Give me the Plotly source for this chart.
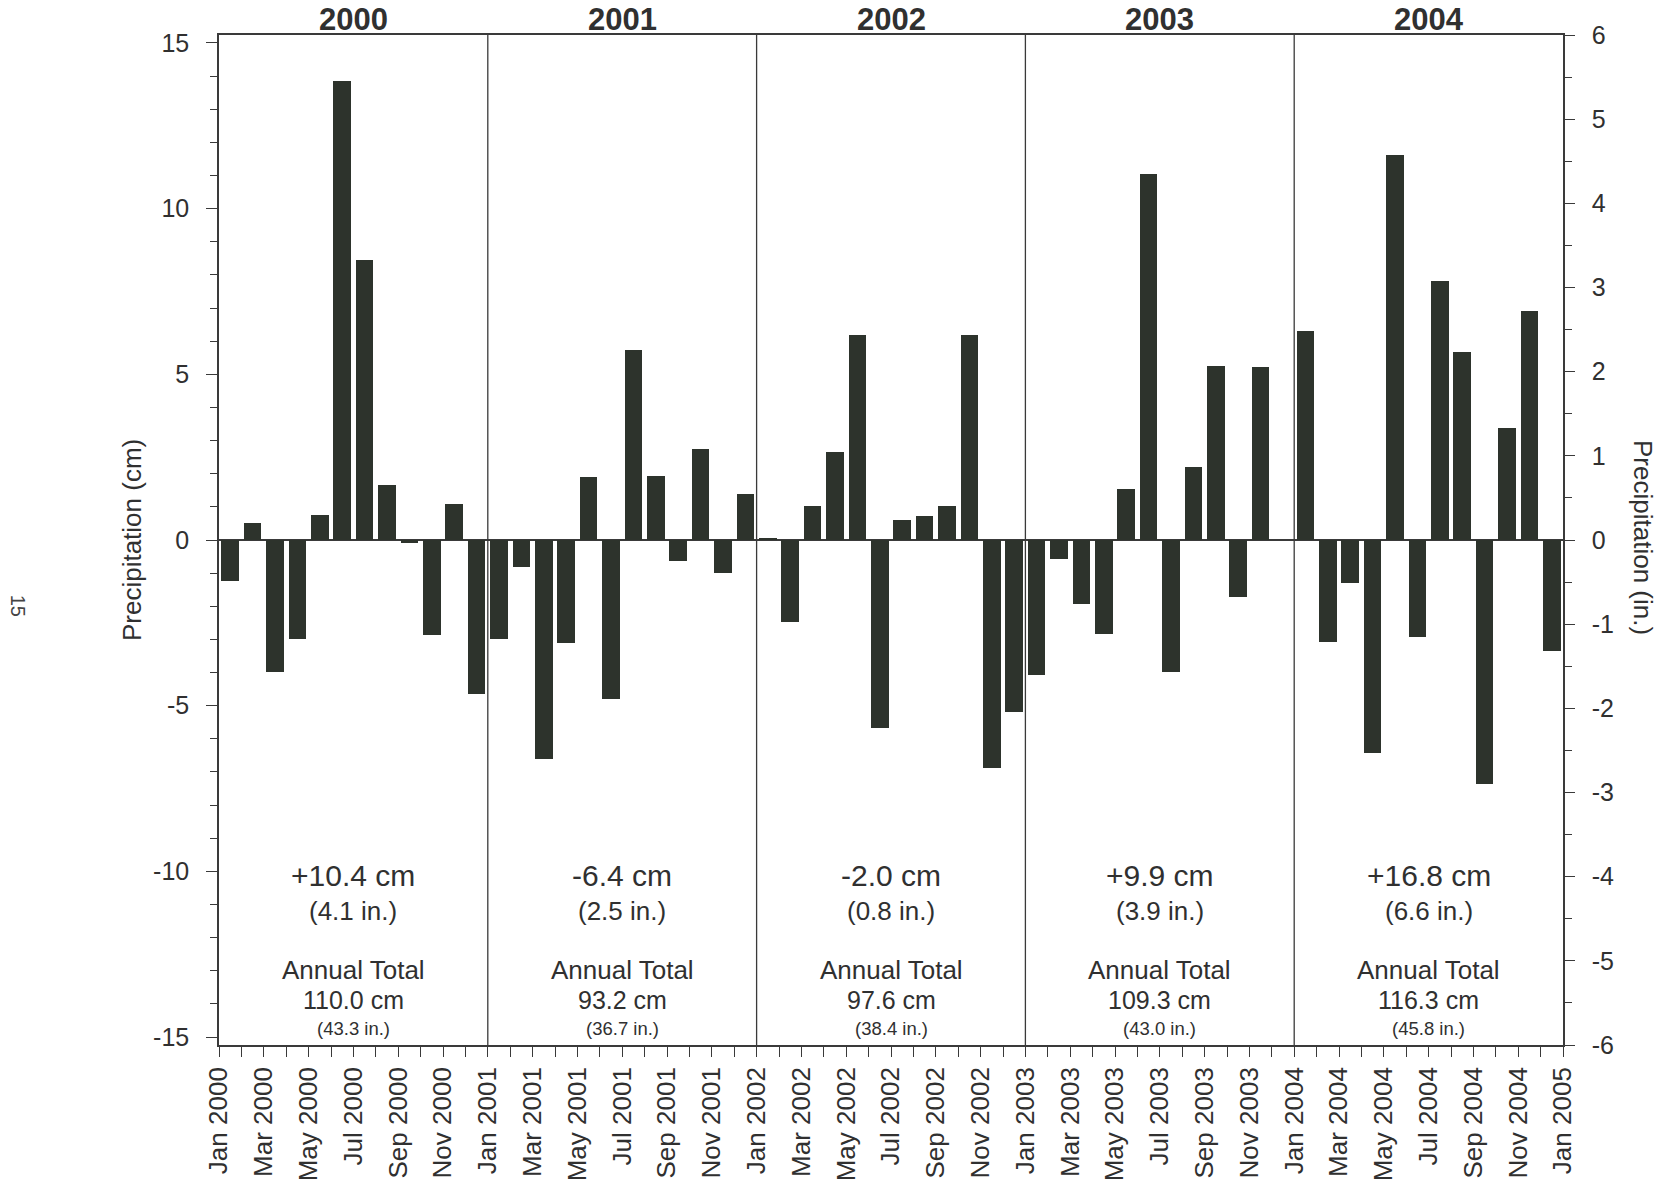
import plotly.graph_objects as go

# Monthly precipitation departure from normal (cm), Jan..Dec of each year
years = [2000, 2001, 2002, 2003, 2004]
dep_2000 = [-1.24, 0.52, -3.97, -3.00, 0.74, 13.85, 8.45, 1.66, -0.10, -2.86, 1.09, -4.65]
dep_2001 = [-3.00, -0.81, -6.62, -3.10, 1.90, -4.80, 5.73, 1.93, -0.62, 2.74, -0.99, 1.40]
dep_2002 = [0.05, -2.47, 1.03, 2.65, 6.18, -5.67, 0.60, 0.72, 1.03, 6.20, -6.89, -5.19]
dep_2003 = [-4.08, -0.56, -1.94, -2.83, 1.55, 11.04, -3.99, 2.20, 5.26, -1.72, 5.22, 0.00]
dep_2004 = [6.31, -3.08, -1.30, -6.44, 11.61, -2.92, 7.82, 5.68, -7.35, 3.39, 6.92, -3.34]

# Annual summaries
annual_dep_cm = ["+10.4", "-6.4", "-2.0", "+9.9", "+16.8"]
annual_dep_in = ["4.1", "2.5", "0.8", "3.9", "6.6"]
annual_total_cm = ["110.0", "93.2", "97.6", "109.3", "116.3"]
annual_total_in = ["43.3", "36.7", "38.4", "43.0", "45.8"]

# Axis tick labels (every other month, plus the closing January)
month_abbr = ["Jan", "Mar", "May", "Jul", "Sep", "Nov"]
x_tick_text = [f"{m} {y}" for y in years for m in month_abbr] + ["Jan 2005"]
left_ticks = [-15, -10, -5, 0, 5, 10, 15]
right_ticks = [-6, -5, -4, -3, -2, -1, 0, 1, 2, 3, 4, 5, 6]

departures = dep_2000 + dep_2001 + dep_2002 + dep_2003 + dep_2004
month_pos = [i + 0.5 for i in range(len(departures))]
x_tick_vals = list(range(0, 61, 2))

BAR = "#2d332c"
INK = "#303030"
LINE = "#3a3a3a"
FONT = "Liberation Sans, Arial, sans-serif"

fig = go.Figure()
fig.add_trace(go.Bar(
    x=month_pos, y=departures, width=0.78,
    marker=dict(color=BAR, line=dict(width=0)),
    showlegend=False, hoverinfo="x+y",
))
# carrier trace so the inch axis is drawn
fig.add_trace(go.Scatter(x=[None], y=[None], yaxis="y2", showlegend=False,
                         hoverinfo="skip"))


def label(x, y, text, size, yref="y"):
    return dict(x=x, y=y, xref="x", yref=yref, text=text, showarrow=False,
                font=dict(size=size, color=INK, family=FONT),
                xanchor="center", yanchor="middle")


annotations = []
for k, yr in enumerate(years):
    xc = k * 12 + 6
    annotations.append(label(xc, 1.0149, f"<b>{yr}</b>", 31, yref="paper"))
    annotations.append(label(xc, -10.11, f"{annual_dep_cm[k]} cm", 30))
    annotations.append(label(xc, -11.19, f"({annual_dep_in[k]} in.)", 26))
    annotations.append(label(xc, -12.98, "Annual Total", 26))
    annotations.append(label(xc, -13.88, f"{annual_total_cm[k]} cm", 25))
    annotations.append(label(xc, -14.73, f"({annual_total_in[k]} in.)", 18.5))

annotations.append(dict(x=-0.0647, y=0.5, xref="paper", yref="paper", text="Precipitation (cm)",
                        textangle=-90, showarrow=False, xanchor="center", yanchor="middle",
                        font=dict(size=26, color=INK, family=FONT)))
annotations.append(dict(x=1.0595, y=0.502, xref="paper", yref="paper", text="Precipitation (in.)",
                        textangle=90, showarrow=False, xanchor="center", yanchor="middle",
                        font=dict(size=26, color=INK, family=FONT)))
annotations.append(dict(x=-0.1496, y=0.435, xref="paper", yref="paper", text="15",
                        textangle=90, showarrow=False, xanchor="center", yanchor="middle",
                        font=dict(size=20, color="#444444", family=FONT)))

# year separators
shapes = [dict(type="line", xref="x", yref="paper", x0=b, x1=b, y0=0, y1=1,
               line=dict(color=LINE, width=1.3)) for b in (12, 24, 36, 48)]

fig.update_layout(
    width=1663, height=1191,
    margin=dict(l=219, r=100, t=35, b=146),
    paper_bgcolor="white", plot_bgcolor="white",
    bargap=0,
    font=dict(family=FONT, color=INK, size=25),
    annotations=annotations, shapes=shapes,
    xaxis=dict(
        range=[0, 60], tickmode="array", tickvals=x_tick_vals, ticktext=x_tick_text,
        tickangle=-90, ticks="outside", ticklen=10, tickwidth=1.3, tickcolor=LINE,
        minor=dict(dtick=1, tick0=0, ticks="outside", ticklen=10, tickwidth=1.3, tickcolor=LINE),
        showline=True, linecolor=LINE, linewidth=1.5, mirror=True,
        showgrid=False, zeroline=False, ticklabelstandoff=0, automargin=False,
        tickfont=dict(size=26, color=INK, family=FONT),
    ),
    yaxis=dict(
        range=[-15.24, 15.24], tickmode="array", tickvals=left_ticks,
        ticktext=[str(v) for v in left_ticks],
        ticks="outside", ticklen=11, tickwidth=1.3, tickcolor=LINE,
        minor=dict(dtick=1, tick0=0, ticks="outside", ticklen=7, tickwidth=1.1, tickcolor=LINE),
        showline=True, linecolor=LINE, linewidth=1.5, automargin=False,
        showgrid=False, zeroline=True, zerolinecolor=LINE, zerolinewidth=1.5,
        ticklabelstandoff=12, tickfont=dict(size=25, color=INK, family=FONT),
    ),
    yaxis2=dict(
        range=[-6, 6], overlaying="y", side="right", tickmode="array", tickvals=right_ticks,
        ticktext=[str(v) for v in right_ticks],
        ticks="outside", ticklen=10, tickwidth=1.3, tickcolor=LINE,
        minor=dict(dtick=0.5, tick0=0, ticks="outside", ticklen=7, tickwidth=1.1, tickcolor=LINE),
        showline=True, linecolor=LINE, linewidth=1.5, automargin=False,
        showgrid=False, zeroline=False,
        ticklabelstandoff=12, tickfont=dict(size=25, color=INK, family=FONT),
    ),
)

fig.write_html("out.html")
